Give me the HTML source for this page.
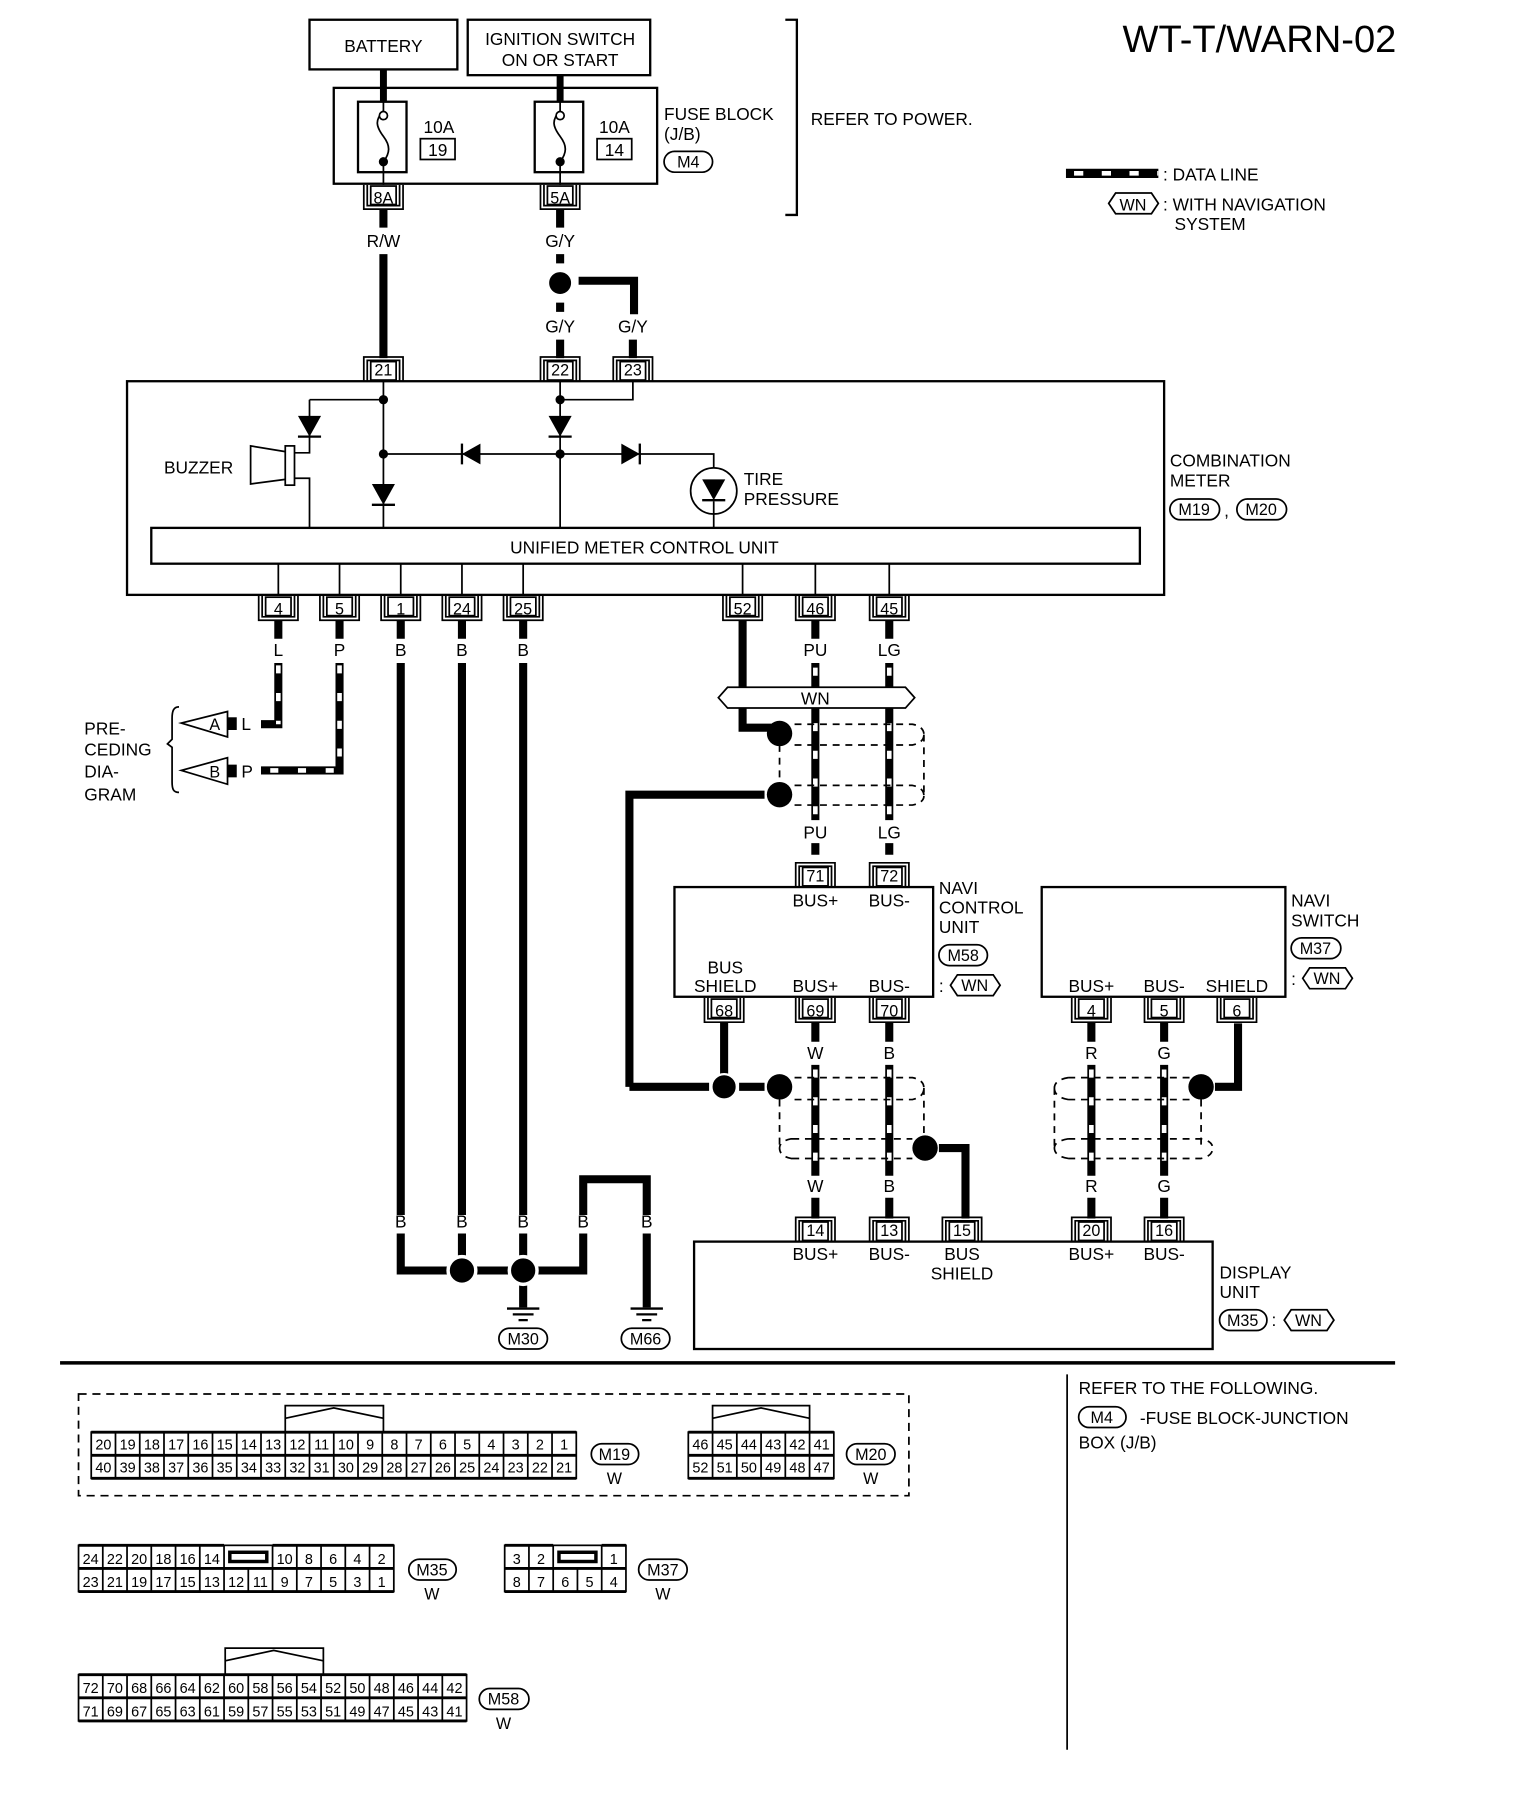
<!DOCTYPE html>
<html><head><meta charset="utf-8"><style>
html,body{margin:0;padding:0;background:#fff}
svg{display:block}
text{font-family:"Liberation Sans",sans-serif;font-size:15px;fill:#000}
.m{text-anchor:middle}
.s{font-size:14px}
.g{font-size:12.5px;text-anchor:middle}
.w{stroke:#000;fill:none}
.wf{stroke:#000;fill:#fff}
</style></head><body>
<svg width="1536" height="1818" viewBox="0 0 1330 1574" xmlns="http://www.w3.org/2000/svg">
<defs>
<g id="ct"><path d="M-17,21V0H17V21M-14,21V3H14V21" stroke="#000" stroke-width="1.5" fill="none"/><rect x="-11" y="4" width="22" height="16" fill="#fff" stroke="#000" stroke-width="1.5"/></g>
<g id="cb"><path d="M-17,0V21H17V0M-14,0V18H14V0" stroke="#000" stroke-width="1.5" fill="none"/><rect x="-11" y="1" width="22" height="16" fill="#fff" stroke="#000" stroke-width="1.5"/></g>
<g id="dd"><path d="M-10,-9H10L0,9Z"/><path d="M-10,9H10" stroke="#000" stroke-width="2"/></g>
<g id="gnd"><path d="M-14,0H14M-9,5H9M-4,10H4" stroke="#000" stroke-width="2"/></g>
</defs>

<!-- title & legend -->
<text x="972" y="45" style="font-size:33px">WT-T/WARN-02</text>
<path d="M923,150H1003" stroke="#000" stroke-width="8"/>
<path d="M930,150H1003" stroke="#fff" stroke-width="4" stroke-dasharray="8 16"/>
<text x="1007" y="156">: DATA LINE</text>
<path d="M960,176L966,167H997L1003,176L997,185H966Z" class="w" stroke-width="1.5"/>
<text x="981" y="182" class="m s">WN</text>
<text x="1007" y="182">: WITH NAVIGATION</text>
<text x="1017" y="199">SYSTEM</text>

<!-- top sources -->
<rect x="268" y="17" width="128" height="43" class="w" stroke-width="2"/>
<text x="332" y="45" class="m">BATTERY</text>
<rect x="405" y="17" width="158" height="48" class="w" stroke-width="2"/>
<text x="485" y="39" class="m">IGNITION SWITCH</text>
<text x="485" y="57" class="m">ON OR START</text>
<path d="M332,60V88M485,65V88" stroke="#000" stroke-width="6"/>
<rect x="289" y="76" width="280" height="83" class="w" stroke-width="2"/>
<rect x="310" y="88" width="42" height="61" class="w" stroke-width="2"/>
<rect x="463" y="88" width="42" height="61" class="w" stroke-width="2"/>
<path d="M332,88V96M332,96c-8,8 -6,14 0,22 6,8 6,14 0,22" class="w" stroke-width="1.5"/>
<path d="M485,88V96M485,96c-8,8 -6,14 0,22 6,8 6,14 0,22" class="w" stroke-width="1.5"/>
<circle cx="332" cy="100" r="3.5" class="wf" stroke-width="1.5"/><circle cx="332" cy="140" r="4"/>
<circle cx="485" cy="100" r="3.5" class="wf" stroke-width="1.5"/><circle cx="485" cy="140" r="4"/>
<path d="M332,140V160M485,140V160" stroke="#000" stroke-width="1.5"/>
<text x="380" y="115" class="m">10A</text><rect x="364" y="120" width="30" height="18" class="w" stroke-width="1.5"/><text x="379" y="135" class="m">19</text>
<text x="532" y="115" class="m">10A</text><rect x="517" y="120" width="30" height="18" class="w" stroke-width="1.5"/><text x="532" y="135" class="m">14</text>
<text x="575" y="104">FUSE BLOCK</text><text x="575" y="121">(J/B)</text>
<rect x="575" y="131" width="42" height="18" rx="9" class="w" stroke-width="1.5"/><text x="596" y="145" class="m s">M4</text>
<path d="M680,17H690V186H680" class="w" stroke-width="2"/>
<text x="702" y="108">REFER TO POWER.</text>

<use href="#cb" x="332" y="160"/><text x="332" y="176" class="m s">8A</text>
<use href="#cb" x="485" y="160"/><text x="485" y="176" class="m s">5A</text>
<path d="M332,181V197M332,220V310" stroke="#000" stroke-width="7"/>
<text x="332" y="214" class="m">R/W</text>
<path d="M485,181V197" stroke="#000" stroke-width="7"/>
<text x="485" y="214" class="m">G/Y</text>
<path d="M485,220V272" stroke="#000" stroke-width="7" stroke-dasharray="8 6"/>
<circle cx="485" cy="245" r="11" stroke="#fff" stroke-width="3"/>
<path d="M501,243H549V272" class="w" stroke-width="7"/>
<text x="485" y="288" class="m">G/Y</text><text x="548" y="288" class="m">G/Y</text>
<path d="M485,294V310M548,294V310" stroke="#000" stroke-width="7"/>
<use href="#ct" x="332" y="309"/><text x="332" y="325" class="m s">21</text>
<use href="#ct" x="485" y="309"/><text x="485" y="325" class="m s">22</text>
<use href="#ct" x="548" y="309"/><text x="548" y="325" class="m s">23</text>

<!-- combination meter -->
<rect x="110" y="330" width="898" height="185" class="w" stroke-width="2"/>
<g stroke="#000" stroke-width="1.5" fill="none">
<path d="M332,330V457M268,346H332M268,346V392H255M255,414H268V457"/>
<path d="M485,330V457M485,346H548V330M332,393H618V420"/>
<path d="M618,430V457M643,488V515M706,488V515M770,488V515M241,488V515M294,488V515M347,488V515M400,488V515M453,488V515"/>
<rect x="247" y="386" width="8" height="34" fill="#fff"/>
<path d="M247,391L217,386V419L247,415"/>
<circle cx="618" cy="425" r="20" fill="#fff"/>
</g>
<circle cx="332" cy="346" r="4"/><circle cx="332" cy="393" r="4"/><circle cx="485" cy="346" r="4"/><circle cx="485" cy="393" r="4"/>
<use href="#dd" x="268" y="369"/><use href="#dd" x="332" y="428"/><use href="#dd" x="485" y="369"/><use href="#dd" x="618" y="424"/>
<path d="M400,393L416,384V402Z"/><path d="M400,384V402" stroke="#000" stroke-width="2"/>
<path d="M554,393L538,384V402Z"/><path d="M554,384V402" stroke="#000" stroke-width="2"/>
<path d="M618,434V445" stroke="#000" stroke-width="1.5"/>
<text x="142" y="410">BUZZER</text>
<text x="644" y="420">TIRE</text><text x="644" y="437">PRESSURE</text>
<rect x="131" y="457" width="856" height="31" class="w" stroke-width="2"/>
<text x="558" y="479" class="m">UNIFIED METER CONTROL UNIT</text>
<text x="1013" y="404">COMBINATION</text><text x="1013" y="421">METER</text>
<rect x="1013" y="432" width="43" height="18" rx="9" class="w" stroke-width="1.5"/><text x="1034" y="446" class="m s">M19</text>
<text x="1060" y="447">,</text>
<rect x="1071" y="432" width="43" height="18" rx="9" class="w" stroke-width="1.5"/><text x="1092" y="446" class="m s">M20</text>

<!-- bottom connectors -->
<use href="#cb" x="241" y="516"/><text x="241" y="532" class="m s">4</text>
<use href="#cb" x="294" y="516"/><text x="294" y="532" class="m s">5</text>
<use href="#cb" x="347" y="516"/><text x="347" y="532" class="m s">1</text>
<use href="#cb" x="400" y="516"/><text x="400" y="532" class="m s">24</text>
<use href="#cb" x="453" y="516"/><text x="453" y="532" class="m s">25</text>
<use href="#cb" x="643" y="516"/><text x="643" y="532" class="m s">52</text>
<use href="#cb" x="706" y="516"/><text x="706" y="532" class="m s">46</text>
<use href="#cb" x="770" y="516"/><text x="770" y="532" class="m s">45</text>
<path d="M241,537V553M294,537V553M347,537V553M400,537V553M453,537V553M706,537V553M770,537V553" stroke="#000" stroke-width="7"/>
<text x="241" y="568" class="m">L</text><text x="294" y="568" class="m">P</text><text x="347" y="568" class="m">B</text><text x="400" y="568" class="m">B</text><text x="453" y="568" class="m">B</text>
<text x="706" y="568" class="m">PU</text><text x="770" y="568" class="m">LG</text>

<!-- L/P data lines -->
<path d="M241,574V627H226M294,574V667H226" class="w" stroke-width="7"/>
<path d="M241,576V627M294,576V667H226" stroke="#fff" stroke-width="4" fill="none" stroke-dasharray="7 17"/>
<path d="M197,616L157,626L197,638Z" class="wf" stroke-width="1.5"/><text x="186" y="632" class="m s">A</text>
<path d="M197,656L157,667L197,679Z" class="wf" stroke-width="1.5"/><text x="186" y="673" class="m s">B</text>
<rect x="197" y="621" width="8" height="11"/><rect x="197" y="662" width="8" height="11"/>
<text x="209" y="632">L</text><text x="209" y="673">P</text>
<path d="M155,612c-5,0 -6,4 -6,10V640l-4,4 4,3V677c0,6 1,9 6,9" class="w" stroke-width="1.5"/>
<text x="73" y="636">PRE-</text><text x="73" y="654">CEDING</text><text x="73" y="673">DIA-</text><text x="73" y="693">GRAM</text>

<!-- ground wires -->
<path d="M347,574V1052M400,574V1052M453,574V1052" stroke="#000" stroke-width="7"/>
<text x="347" y="1063" class="m">B</text><text x="400" y="1063" class="m">B</text><text x="453" y="1063" class="m">B</text>
<text x="505" y="1063" class="m">B</text><text x="560" y="1063" class="m">B</text>
<path d="M347,1068V1100H505V1068M505,1052V1021H560V1052M560,1068V1132M453,1068V1132M400,1068V1100" class="w" stroke-width="7"/>
<circle cx="400" cy="1100" r="12" stroke="#fff" stroke-width="3"/><circle cx="453" cy="1100" r="12" stroke="#fff" stroke-width="3"/>
<use href="#gnd" x="453" y="1133"/><use href="#gnd" x="560" y="1133"/>
<rect x="432" y="1150" width="42" height="18" rx="9" class="w" stroke-width="1.5"/><text x="453" y="1164" class="m s">M30</text>
<rect x="538" y="1150" width="42" height="18" rx="9" class="w" stroke-width="1.5"/><text x="559" y="1164" class="m s">M66</text>

<!-- WN bar & upper shield -->
<path d="M643,537V630H668" class="w" stroke-width="7"/>
<path d="M706,574V710M770,574V710M706,730V740M770,730V740" stroke="#000" stroke-width="7"/>
<path d="M706,578V710M770,578V710" stroke="#fff" stroke-width="4" stroke-dasharray="7 17"/>
<path d="M622,604L630,595H784L792,604L784,613H630Z" class="wf" stroke-width="1.5"/>
<text x="706" y="610" class="m">WN</text>
<g stroke="#000" stroke-width="1.5" fill="none" stroke-dasharray="6 5">
<path d="M688,627H790Q800,629 800,636M688,645H790Q800,643 800,636M688,680H790Q800,682 800,689M688,697H790Q800,695 800,689M675,645V680M800,636V689"/>
</g>
<path d="M545,941V688H662" class="w" stroke-width="7"/>
<circle cx="675" cy="635" r="11"/><circle cx="675" cy="688" r="11"/>
<text x="706" y="726" class="m">PU</text><text x="770" y="726" class="m">LG</text>

<!-- navi control unit -->
<use href="#ct" x="706" y="747"/><text x="706" y="763" class="m s">71</text>
<use href="#ct" x="770" y="747"/><text x="770" y="763" class="m s">72</text>
<rect x="584" y="768" width="224" height="95" class="w" stroke-width="2"/>
<text x="706" y="785" class="m">BUS+</text><text x="770" y="785" class="m">BUS-</text>
<text x="628" y="843" class="m">BUS</text><text x="628" y="859" class="m">SHIELD</text>
<text x="706" y="859" class="m">BUS+</text><text x="770" y="859" class="m">BUS-</text>
<text x="813" y="774">NAVI</text><text x="813" y="791">CONTROL</text><text x="813" y="808">UNIT</text>
<rect x="813" y="818" width="42" height="18" rx="9" class="w" stroke-width="1.5"/><text x="834" y="832" class="m s">M58</text>
<text x="813" y="859">:</text>
<path d="M823,853L829,844H860L866,853L860,862H829Z" class="w" stroke-width="1.5"/><text x="844" y="858" class="m s">WN</text>
<use href="#cb" x="627" y="864"/><text x="627" y="880" class="m s">68</text>
<use href="#cb" x="706" y="864"/><text x="706" y="880" class="m s">69</text>
<use href="#cb" x="770" y="864"/><text x="770" y="880" class="m s">70</text>

<!-- navi switch -->
<rect x="902" y="768" width="211" height="95" class="w" stroke-width="2"/>
<text x="945" y="859" class="m">BUS+</text><text x="1008" y="859" class="m">BUS-</text><text x="1071" y="859" class="m">SHIELD</text>
<text x="1118" y="785">NAVI</text><text x="1118" y="802">SWITCH</text>
<rect x="1118" y="812" width="43" height="18" rx="9" class="w" stroke-width="1.5"/><text x="1139" y="826" class="m s">M37</text>
<text x="1118" y="853">:</text>
<path d="M1128,847L1134,838H1165L1171,847L1165,856H1134Z" class="w" stroke-width="1.5"/><text x="1149" y="852" class="m s">WN</text>
<use href="#cb" x="945" y="864"/><text x="945" y="880" class="m s">4</text>
<use href="#cb" x="1008" y="864"/><text x="1008" y="880" class="m s">5</text>
<use href="#cb" x="1071" y="864"/><text x="1071" y="880" class="m s">6</text>

<!-- lower shields -->
<path d="M627,885V930M545,941H614M640,941H662" class="w" stroke-width="7"/>
<path d="M706,885V902M770,885V902M945,885V902M1008,885V902" stroke="#000" stroke-width="7"/>
<text x="706" y="917" class="m">W</text><text x="770" y="917" class="m">B</text><text x="945" y="917" class="m">R</text><text x="1008" y="917" class="m">G</text>
<path d="M706,922V1018M770,922V1018M945,922V1018M1008,922V1018" stroke="#000" stroke-width="7"/>
<path d="M706,926V1018M770,926V1018M945,926V1018M1008,926V1018" stroke="#fff" stroke-width="4" stroke-dasharray="7 17"/>
<g stroke="#000" stroke-width="1.5" fill="none" stroke-dasharray="6 5">
<path d="M688,933H790Q800,935 800,942M688,952H790Q800,950 800,942M675,952V994M800,942V982M686,986H685Q675,988 675,994M686,1003H685Q675,1001 675,994M686,986H790M686,1003H790"/>
<path d="M925,933H1030M925,952H1030M925,933Q913,935 913,942M925,952Q913,950 913,942M913,942V994M925,986Q913,988 913,994M925,1003Q913,1001 913,994M925,986H1040Q1050,988 1050,994M925,1003H1040Q1050,1001 1050,994M1040,952V994"/>
</g>
<circle cx="627" cy="941" r="11" stroke="#fff" stroke-width="2"/><circle cx="675" cy="941" r="11"/>
<circle cx="801" cy="994" r="11"/>
<path d="M813,994H836V1055" class="w" stroke-width="7"/>
<circle cx="1040" cy="941" r="11"/>
<path d="M1052,941H1072V886" class="w" stroke-width="7"/>
<text x="706" y="1032" class="m">W</text><text x="770" y="1032" class="m">B</text><text x="945" y="1032" class="m">R</text><text x="1008" y="1032" class="m">G</text>
<path d="M706,1037V1055M770,1037V1055M945,1037V1055M1008,1037V1055" stroke="#000" stroke-width="7"/>

<!-- display unit -->
<use href="#ct" x="706" y="1054"/><text x="706" y="1070" class="m s">14</text>
<use href="#ct" x="770" y="1054"/><text x="770" y="1070" class="m s">13</text>
<use href="#ct" x="833" y="1054"/><text x="833" y="1070" class="m s">15</text>
<use href="#ct" x="945" y="1054"/><text x="945" y="1070" class="m s">20</text>
<use href="#ct" x="1008" y="1054"/><text x="1008" y="1070" class="m s">16</text>
<rect x="601" y="1075" width="449" height="93" class="w" stroke-width="2"/>
<text x="706" y="1091" class="m">BUS+</text><text x="770" y="1091" class="m">BUS-</text><text x="833" y="1091" class="m">BUS</text><text x="833" y="1108" class="m">SHIELD</text>
<text x="945" y="1091" class="m">BUS+</text><text x="1008" y="1091" class="m">BUS-</text>
<text x="1056" y="1107">DISPLAY</text><text x="1056" y="1124">UNIT</text>
<rect x="1056" y="1134" width="41" height="18" rx="9" class="w" stroke-width="1.5"/><text x="1076" y="1148" class="m s">M35</text>
<text x="1101" y="1148">:</text>
<path d="M1112,1143L1118,1134H1149L1155,1143L1149,1152H1118Z" class="w" stroke-width="1.5"/><text x="1133" y="1148" class="m s">WN</text>

<!-- footer -->
<path d="M52,1180H1208" stroke="#000" stroke-width="3"/>
<path d="M924,1190V1515" stroke="#000" stroke-width="1.5"/>
<text x="934" y="1207">REFER TO THE FOLLOWING.</text>
<rect x="934" y="1218" width="41" height="18" rx="9" class="w" stroke-width="1.5"/><text x="954" y="1232" class="m s">M4</text>
<text x="987" y="1233">-FUSE BLOCK-JUNCTION</text>
<text x="934" y="1254">BOX (J/B)</text>

<rect x="68" y="1207" width="719" height="88" class="w" stroke-width="1.5" stroke-dasharray="7 5"/>

<!-- M19 -->
<g class="w" stroke-width="1.5">
<rect x="79" y="1240" width="420" height="40"/>
<path d="M79,1240H499M79,1260H499M79,1280H499" stroke-width="2.5"/>
<path d="M100,1240V1280M121,1240V1280M142,1240V1280M163,1240V1280M184,1240V1280M205,1240V1280M226,1240V1280M247,1240V1280M268,1240V1280M289,1240V1280M310,1240V1280M331,1240V1280M352,1240V1280M373,1240V1280M394,1240V1280M415,1240V1280M436,1240V1280M457,1240V1280M478,1240V1280"/>
<path d="M247,1240V1217H332V1240M247,1228L289,1219L332,1228"/>
<rect x="596" y="1240" width="126" height="40"/>
<path d="M596,1240H722M596,1260H722M596,1280H722" stroke-width="2.5"/>
<path d="M617,1240V1280M638,1240V1280M659,1240V1280M680,1240V1280M701,1240V1280"/>
<path d="M617,1240V1217H701V1240M617,1228L659,1219L701,1228"/>
</g>
<g>
<text class="g" x="89.5" y="1255">20</text><text class="g" x="110.5" y="1255">19</text><text class="g" x="131.5" y="1255">18</text><text class="g" x="152.5" y="1255">17</text><text class="g" x="173.5" y="1255">16</text><text class="g" x="194.5" y="1255">15</text><text class="g" x="215.5" y="1255">14</text><text class="g" x="236.5" y="1255">13</text><text class="g" x="257.5" y="1255">12</text><text class="g" x="278.5" y="1255">11</text><text class="g" x="299.5" y="1255">10</text><text class="g" x="320.5" y="1255">9</text><text class="g" x="341.5" y="1255">8</text><text class="g" x="362.5" y="1255">7</text><text class="g" x="383.5" y="1255">6</text><text class="g" x="404.5" y="1255">5</text><text class="g" x="425.5" y="1255">4</text><text class="g" x="446.5" y="1255">3</text><text class="g" x="467.5" y="1255">2</text><text class="g" x="488.5" y="1255">1</text>
<text class="g" x="89.5" y="1275">40</text><text class="g" x="110.5" y="1275">39</text><text class="g" x="131.5" y="1275">38</text><text class="g" x="152.5" y="1275">37</text><text class="g" x="173.5" y="1275">36</text><text class="g" x="194.5" y="1275">35</text><text class="g" x="215.5" y="1275">34</text><text class="g" x="236.5" y="1275">33</text><text class="g" x="257.5" y="1275">32</text><text class="g" x="278.5" y="1275">31</text><text class="g" x="299.5" y="1275">30</text><text class="g" x="320.5" y="1275">29</text><text class="g" x="341.5" y="1275">28</text><text class="g" x="362.5" y="1275">27</text><text class="g" x="383.5" y="1275">26</text><text class="g" x="404.5" y="1275">25</text><text class="g" x="425.5" y="1275">24</text><text class="g" x="446.5" y="1275">23</text><text class="g" x="467.5" y="1275">22</text><text class="g" x="488.5" y="1275">21</text>
<text class="g" x="606.5" y="1255">46</text><text class="g" x="627.5" y="1255">45</text><text class="g" x="648.5" y="1255">44</text><text class="g" x="669.5" y="1255">43</text><text class="g" x="690.5" y="1255">42</text><text class="g" x="711.5" y="1255">41</text>
<text class="g" x="606.5" y="1275">52</text><text class="g" x="627.5" y="1275">51</text><text class="g" x="648.5" y="1275">50</text><text class="g" x="669.5" y="1275">49</text><text class="g" x="690.5" y="1275">48</text><text class="g" x="711.5" y="1275">47</text>
</g>
<rect x="512" y="1250" width="41" height="18" rx="9" class="w" stroke-width="1.5"/><text x="532" y="1264" class="m s">M19</text><text x="532" y="1285" class="m s">W</text>
<rect x="733" y="1250" width="42" height="18" rx="9" class="w" stroke-width="1.5"/><text x="754" y="1264" class="m s">M20</text><text x="754" y="1285" class="m s">W</text>

<!-- M35 -->
<g class="w" stroke-width="1.5">
<rect x="68" y="1338" width="273" height="40"/>
<path d="M68,1338H194M236,1338H341M68,1358H341M68,1378H341" stroke-width="2.5"/>
<path d="M89,1338V1378M110,1338V1378M131,1338V1378M152,1338V1378M173,1338V1378M194,1338V1378M215,1358V1378M236,1338V1378M257,1338V1378M278,1338V1378M299,1338V1378M320,1338V1378"/>
<rect x="199" y="1344" width="32" height="8" stroke-width="3"/>
<rect x="437" y="1338" width="105" height="40"/>
<path d="M437,1338H479M521,1338H542M437,1358H542M437,1378H542" stroke-width="2.5"/>
<path d="M458,1338V1378M479,1338V1378M500,1358V1378M521,1338V1378"/>
<rect x="484" y="1344" width="32" height="8" stroke-width="3"/>
</g>
<g>
<text class="g" x="78.5" y="1354">24</text><text class="g" x="99.5" y="1354">22</text><text class="g" x="120.5" y="1354">20</text><text class="g" x="141.5" y="1354">18</text><text class="g" x="162.5" y="1354">16</text><text class="g" x="183.5" y="1354">14</text><text class="g" x="246.5" y="1354">10</text><text class="g" x="267.5" y="1354">8</text><text class="g" x="288.5" y="1354">6</text><text class="g" x="309.5" y="1354">4</text><text class="g" x="330.5" y="1354">2</text>
<text class="g" x="78.5" y="1374">23</text><text class="g" x="99.5" y="1374">21</text><text class="g" x="120.5" y="1374">19</text><text class="g" x="141.5" y="1374">17</text><text class="g" x="162.5" y="1374">15</text><text class="g" x="183.5" y="1374">13</text><text class="g" x="204.5" y="1374">12</text><text class="g" x="225.5" y="1374">11</text><text class="g" x="246.5" y="1374">9</text><text class="g" x="267.5" y="1374">7</text><text class="g" x="288.5" y="1374">5</text><text class="g" x="309.5" y="1374">3</text><text class="g" x="330.5" y="1374">1</text>
<text class="g" x="447.5" y="1354">3</text><text class="g" x="468.5" y="1354">2</text><text class="g" x="531.5" y="1354">1</text>
<text class="g" x="447.5" y="1374">8</text><text class="g" x="468.5" y="1374">7</text><text class="g" x="489.5" y="1374">6</text><text class="g" x="510.5" y="1374">5</text><text class="g" x="531.5" y="1374">4</text>
</g>
<rect x="354" y="1350" width="41" height="18" rx="9" class="w" stroke-width="1.5"/><text x="374" y="1364" class="m s">M35</text><text x="374" y="1385" class="m s">W</text>
<rect x="553" y="1350" width="42" height="18" rx="9" class="w" stroke-width="1.5"/><text x="574" y="1364" class="m s">M37</text><text x="574" y="1385" class="m s">W</text>

<!-- M58 -->
<g class="w" stroke-width="1.5">
<rect x="68" y="1450" width="336" height="40"/>
<path d="M68,1450H404M68,1470H404M68,1490H404" stroke-width="2.5"/>
<path d="M89,1450V1490M110,1450V1490M131,1450V1490M152,1450V1490M173,1450V1490M194,1450V1490M215,1450V1490M236,1450V1490M257,1450V1490M278,1450V1490M299,1450V1490M320,1450V1490M341,1450V1490M362,1450V1490M383,1450V1490"/>
<path d="M195,1450V1427H280V1450M195,1438L237,1429L280,1438"/>
</g>
<g>
<text class="g" x="78.5" y="1466">72</text><text class="g" x="99.5" y="1466">70</text><text class="g" x="120.5" y="1466">68</text><text class="g" x="141.5" y="1466">66</text><text class="g" x="162.5" y="1466">64</text><text class="g" x="183.5" y="1466">62</text><text class="g" x="204.5" y="1466">60</text><text class="g" x="225.5" y="1466">58</text><text class="g" x="246.5" y="1466">56</text><text class="g" x="267.5" y="1466">54</text><text class="g" x="288.5" y="1466">52</text><text class="g" x="309.5" y="1466">50</text><text class="g" x="330.5" y="1466">48</text><text class="g" x="351.5" y="1466">46</text><text class="g" x="372.5" y="1466">44</text><text class="g" x="393.5" y="1466">42</text>
<text class="g" x="78.5" y="1486">71</text><text class="g" x="99.5" y="1486">69</text><text class="g" x="120.5" y="1486">67</text><text class="g" x="141.5" y="1486">65</text><text class="g" x="162.5" y="1486">63</text><text class="g" x="183.5" y="1486">61</text><text class="g" x="204.5" y="1486">59</text><text class="g" x="225.5" y="1486">57</text><text class="g" x="246.5" y="1486">55</text><text class="g" x="267.5" y="1486">53</text><text class="g" x="288.5" y="1486">51</text><text class="g" x="309.5" y="1486">49</text><text class="g" x="330.5" y="1486">47</text><text class="g" x="351.5" y="1486">45</text><text class="g" x="372.5" y="1486">43</text><text class="g" x="393.5" y="1486">41</text>
</g>
<rect x="415" y="1462" width="43" height="18" rx="9" class="w" stroke-width="1.5"/><text x="436" y="1476" class="m s">M58</text><text x="436" y="1497" class="m s">W</text>
</svg>
</body></html>
